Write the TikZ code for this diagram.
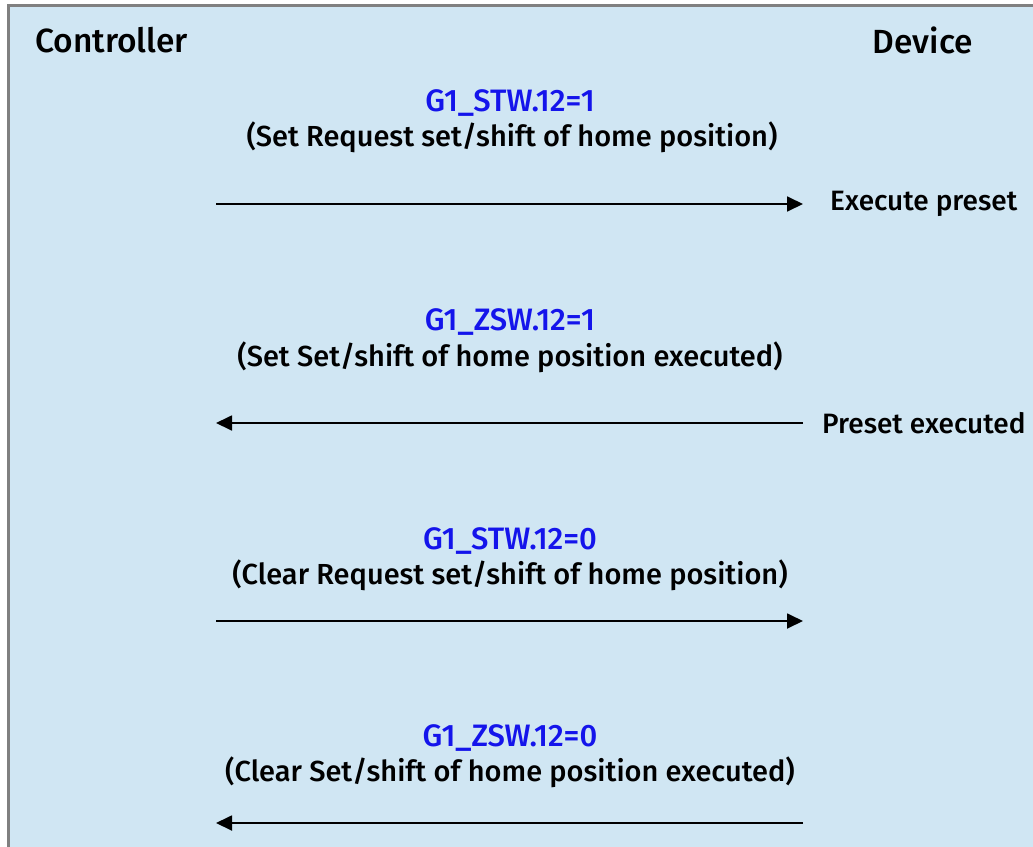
\documentclass[tikz,border=0pt]{standalone}
\usepackage{fontspec}
\setmainfont{Fira Sans}[BoldFont={Fira Sans Medium}]
\usetikzlibrary{arrows.meta}
\definecolor{panelblue}{RGB}{208,230,243}
\definecolor{framegray}{RGB}{128,128,128}
\definecolor{sigblue}{RGB}{20,20,235}

\tikzset{
  actor/.style={font=\fontsize{33.5}{38}\selectfont\bfseries, inner sep=0pt},
  signal/.style={font=\fontsize{31}{36}\selectfont\bfseries, text=sigblue, inner sep=0pt},
  meaning/.style={font=\fontsize{29}{34}\selectfont\bfseries, inner sep=0pt},
  note/.style={font=\fontsize{28}{34}\selectfont\bfseries, inner sep=0pt, anchor=west},
  msg/.style={line width=1.8pt, -{Triangle[length=16pt,width=15pt]}}
}

\begin{document}
\begin{tikzpicture}[x=1pt, y=-1pt]
  \useasboundingbox (0,0) rectangle (1033,846);
  % panel
  \fill[panelblue] (8,5) rectangle (1040,850);
  \draw[framegray, line width=3pt] (8.5,850) -- (8.5,5.5) -- (1040,5.5);

  % lifelines
  \node[actor, anchor=west] (ctrl) at (35,40) {Controller};
  \node[actor, anchor=east] (dev) at (973,40) {Device};

  \coordinate (c1) at (216,204); \coordinate (d1) at (803,204);
  \coordinate (c2) at (216,423); \coordinate (d2) at (803,423);
  \coordinate (c3) at (216,621); \coordinate (d3) at (803,621);
  \coordinate (c4) at (216,823); \coordinate (d4) at (803,823);

  % request preset
  \node[signal] (s1) at (510,103) {G1\_STW.12=1};
  \node[meaning] (m1) at (512,137) {(Set Request set/shift of home position)};
  \draw[msg] (c1) -- (d1);
  \node[note] (n1) at (830,204) {Execute preset};

  % preset acknowledged
  \node[signal] (s2) at (510,322) {G1\_ZSW.12=1};
  \node[meaning] (m2) at (510,357) {(Set Set/shift of home position executed)};
  \draw[msg] (d2) -- (c2);
  \node[note] (n2) at (822,423) {Preset executed};

  % clear request
  \node[signal] (s3) at (510,541) {G1\_STW.12=0};
  \node[meaning] (m3) at (510,575) {(Clear Request set/shift of home position)};
  \draw[msg] (c3) -- (d3);

  % clear acknowledged
  \node[signal] (s4) at (510,738) {G1\_ZSW.12=0};
  \node[meaning] (m4) at (510,772) {(Clear Set/shift of home position executed)};
  \draw[msg] (d4) -- (c4);
\end{tikzpicture}
\end{document}
